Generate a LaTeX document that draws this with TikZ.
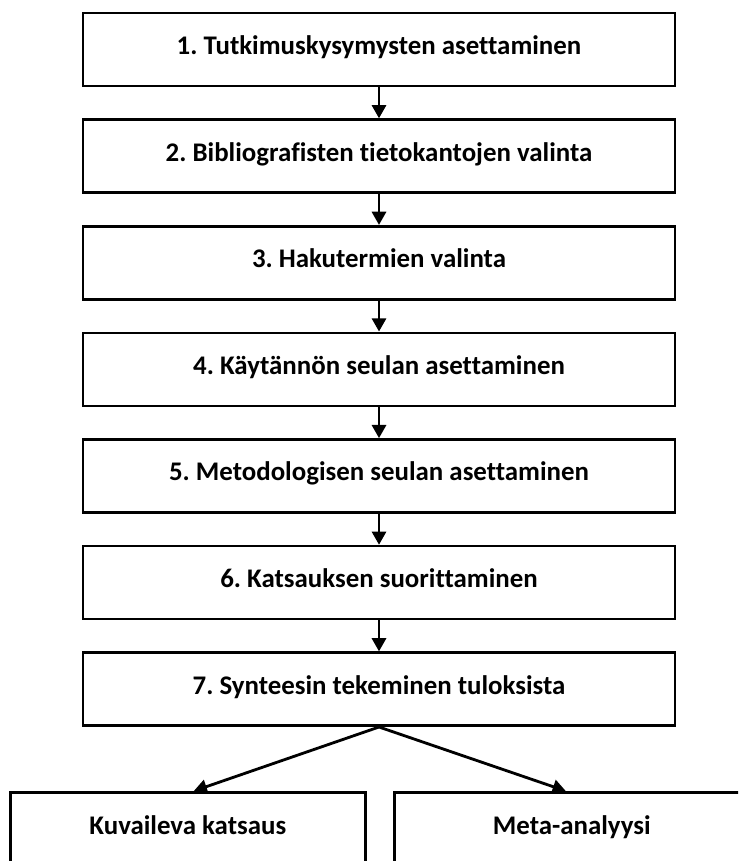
\documentclass[tikz,border=0pt]{standalone}
\usepackage{fontspec}
\setmainfont{Carlito}[Ligatures=NoCommon]
\frenchspacing
\usetikzlibrary{positioning}
\usetikzlibrary{arrows.meta}

\tikzset{
  box/.style={draw=black, line width=1.5pt, rectangle, minimum width=11.84cm,
    minimum height=1.46cm, inner sep=0pt, text height=1.5ex, text depth=0.3ex,
    font=\fontsize{15.3}{18}\selectfont\bfseries},
  leafbox/.style={box, minimum width=7.1cm, minimum height=1.48cm},
  flow/.style={line width=1.6pt, -{Triangle[length=7.5pt, width=8pt]}}
}

\begin{document}
\begin{tikzpicture}[x=0.02cm, y=-0.02cm]

  % page frame
  \clip (0, 0) rectangle (738, 861);

  % main chain
  \node at (379, 49.5) (step1) [box] {1. Tutkimuskysymysten asettaminen};
  \node (step2) [box, below=0.62cm of step1] {2. Bibliografisten tietokantojen valinta};
  \node (step3) [box, below=0.62cm of step2] {3. Hakutermien valinta};
  \node (step4) [box, below=0.62cm of step3] {4. Käytännön seulan asettaminen};
  \node (step5) [box, below=0.62cm of step4] {5. Metodologisen seulan asettaminen};
  \node (step6) [box, below=0.62cm of step5] {6. Katsauksen suorittaminen};
  \node (step7) [box, below=0.62cm of step6] {7. Synteesin tekeminen tuloksista};

  % the two outcomes
  \node at (9, 791) (kuvaileva) [leafbox, anchor=north west] {Kuvaileva katsaus};
  \node at (393, 791) (meta) [leafbox, anchor=north west] {Meta-analyysi};

  % arrows
  \draw [flow] (step1) -- (step2);
  \draw [flow] (step2) -- (step3);
  \draw [flow] (step3) -- (step4);
  \draw [flow] (step4) -- (step5);
  \draw [flow] (step5) -- (step6);
  \draw [flow] (step6) -- (step7);
  \draw [flow] (step7.south) -- ([xshift=0.12cm] kuvaileva.north);
  \draw [flow] (step7.south) -- ([xshift=-0.12cm] meta.north);

\end{tikzpicture}
\end{document}
